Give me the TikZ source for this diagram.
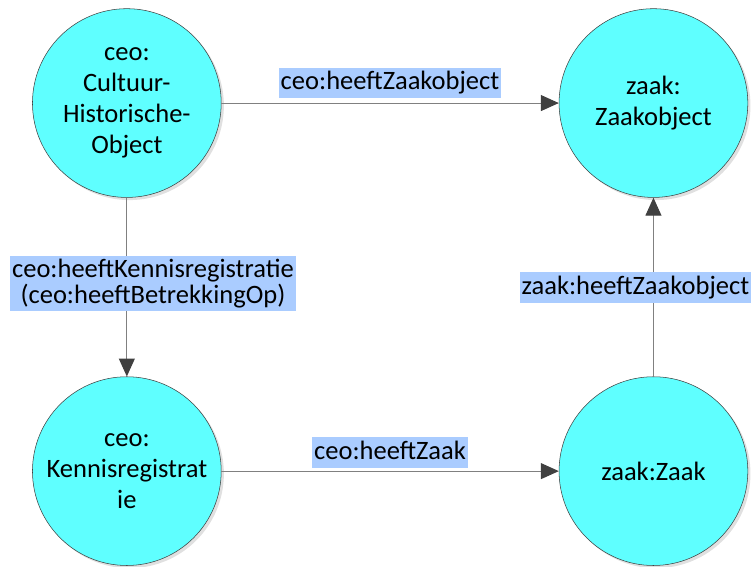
\documentclass[tikz,border=0pt]{standalone}
\usepackage{fontspec}
\setmainfont{Carlito}
\usepackage{tikz}
\usetikzlibrary{arrows.meta,shadows}
\definecolor{bolcyan}{RGB}{95,255,255}
\definecolor{lblblauw}{RGB}{170,204,255}
\definecolor{lijngrijs}{RGB}{128,128,128}
\definecolor{pijlgrijs}{RGB}{64,64,64}

\begin{document}
\begin{tikzpicture}[
	bol/.style={draw=pijlgrijs, circle, fill=bolcyan, minimum size=5cm, inner sep=0pt, align=center,
		font=\fontsize{20}{23.5}\selectfont,
		drop shadow={fill=black, opacity=0.12, shadow xshift=2pt, shadow yshift=-2pt}},
	lbl/.style={fill=lblblauw, inner xsep=1.5pt, inner ysep=2.3pt, align=center,
		font=\fontsize{20}{19}\selectfont},
	lbleen/.style={lbl, inner ysep=1.5pt, text height=15pt, text depth=5pt},
	pijl/.style={draw=lijngrijs, line width=0.8pt, -{Triangle[length=13.5pt,width=12pt,color=pijlgrijs]}}
	]
			\useasboundingbox (0,0) rectangle (20,15);
			\node	(cho) at (3.36,12.27) [bol] {ceo:\\Cultuur-\\Historische-\\Object};
			\node	(zo) at (17.31,12.27) [bol] {zaak:\\Zaakobject};
			\node	(kr) at (3.36,2.52) [bol] {ceo:\\Kennisregistrat\\ie};
			\node	(zk) at (17.31,2.52) [bol] {zaak:Zaak};
			
			\draw 
			(cho) edge[pijl] (zo) 
			(cho) edge[pijl] (kr)
			(kr) edge[pijl] (zk)
			(zk) edge[pijl] (zo)
			;
			
			\node	(l1) at (10.33,12.80) [lbleen] {ceo:heeftZaakobject};
			\node	(l2) at (4.05,7.49) [lbl] {ceo:heeftKennisregistratie\\(ceo:heeftBetrekkingOp)};
			\node	(l3) at (10.33,3.01) [lbleen] {ceo:heeftZaak};
			\node	(l4) at (16.83,7.38) [lbleen] {zaak:heeftZaakobject};
		\end{tikzpicture}
\end{document}
